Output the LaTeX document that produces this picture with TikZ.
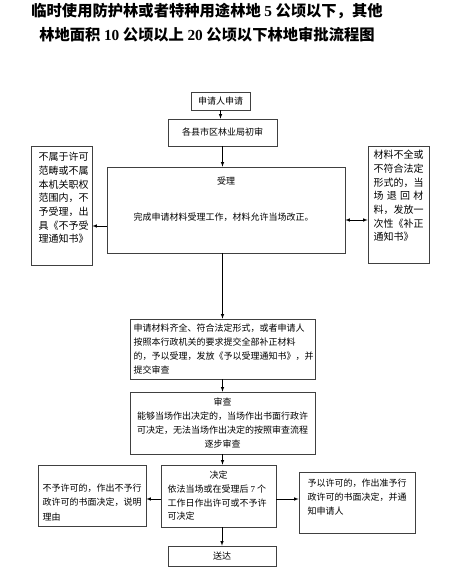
\documentclass[tikz,border=0pt]{standalone}
\usepackage{fontspec}
\setmainfont{Noto Sans CJK SC}
\newfontfamily\latinfont{Liberation Serif}
\usetikzlibrary{positioning, calc, arrows.meta}

\newcommand{\lat}[1]{{\latinfont #1}}

\tikzset{
  stepbox/.style={draw=black!75, line width=0.7pt, inner sep=0pt},
  note/.style={inner sep=0pt, font=\fontsize{9}{13.7}\selectfont},
  sidenote/.style={inner sep=0pt, font=\fontsize{10}{13.7}\selectfont, text width=50pt, align=left},
  headline/.style={inner sep=0pt, font=\fontsize{15.3}{20}\selectfont\bfseries},
  flow/.style={->, line width=0.6pt},
}

\begin{document}
\begin{tikzpicture}[x=1pt, y=-1pt, >=latex]
    \useasboundingbox (0,0) rectangle (451,571);

    % Title
    \node[headline] (title1) at (207,11) {临时使用防护林或者特种用途林地 \lat{5} 公顷以下，其他};
    \node[headline] (title2) at (207,35) {林地面积 \lat{10} 公顷以上 \lat{20} 公顷以下林地审批流程图};

    % Application and first check
    \node[stepbox, note, minimum width=59pt, minimum height=18pt] (apply) at (220.5,101) {申请人申请};
    \node[stepbox, note, minimum width=109pt, minimum height=27pt] (prelim) at (222.5,132.5) {各县市区林业局初审};

    % Acceptance
    \node[stepbox, minimum width=238pt, minimum height=86pt] (accept) at (226,210) {};
    \node[note] (acceptTitle) at (226,181) {受理};
    \node[note] (acceptBody) at (223.5,217) {完成申请材料受理工作，材料允许当场改正。};

    % Side boxes of the acceptance
    \node[stepbox, minimum width=61pt, minimum height=119pt] (reject) at (61.5,205.5) {};
    \node[sidenote, anchor=north] (rejectText) at (63.5,152) {不属于许可\\范畴或不属\\本机关职权\\范围内，不\\予受理，出\\具《不予受\\理通知书》};
    \node[stepbox, minimum width=61pt, minimum height=117pt] (patch) at (398.5,204.5) {};
    \node[sidenote, anchor=north] (patchText) at (398.5,150) {材料不全或\\不符合法定\\形式的，当\\\makebox[\linewidth][s]{场 退 回 材}\\料，发放一\\次性《补正\\通知书》};

    % Complete materials and review
    \node[stepbox, note, minimum width=185pt, minimum height=60pt] (complete) at (222.5,349) {\parbox{178pt}{申请材料齐全、符合法定形式，或者申请人\\按照本行政机关的要求提交全部补正材料\\的，予以受理，发放《予以受理通知书》，并\\提交审查}};
    \node[stepbox, note, minimum width=185pt, minimum height=62pt, align=center] (review) at (222.5,423) {审查\\能够当场作出决定的，当场作出书面行政许\\可决定，无法当场作出决定的按照审查流程\\逐步审查};

    % Decision
    \node[stepbox, note, minimum width=115pt, minimum height=62pt] (decide) at (218.5,496) {\parbox{102pt}{\makebox[\linewidth]{决定}\\依法当场或在受理后 \lat{7} 个\\工作日作出许可或不予许\\可决定}};
    \node[stepbox, minimum width=108pt, minimum height=61pt] (deny) at (92,495.5) {};
    \node[note, font=\fontsize{9}{14.5}\selectfont, text width=99pt, align=left] (denyText) at (92,502.5) {不予许可的，作出不予行\\政许可的书面决定，说明\\理由};
    \node[stepbox, minimum width=116pt, minimum height=61pt] (grant) at (357,502.5) {};
    \node[note, font=\fontsize{9}{14}\selectfont, text width=99pt, align=left] (grantText) at (357,497) {予以许可的，作出准予行\\政许可的书面决定，并通\\知申请人};
    \node[stepbox, note, minimum width=108pt, minimum height=20pt] (deliver) at (222,556) {送达};

    % Rows of the side arrows
    \coordinate (rejectRow) at (0,226);
    \coordinate (patchRow) at (0,220);
    \coordinate (decideRow) at (0,499);

    % Arrows
    \draw[flow] (apply.south) -- (apply.south |- prelim.north);
    \draw[flow] (prelim.south) -- (prelim.south |- accept.north);
    \draw[flow] (accept.west |- rejectRow) -- (reject.east |- rejectRow);
    \draw[flow, <->] (accept.east |- patchRow) -- (patch.west |- patchRow);
    \draw[flow] (complete.north |- accept.south) -- (complete.north);
    \draw[flow] (complete) -- (review);
    \draw[flow] (review.south) -- (review.south |- decide.north);
    \draw[flow] (decide.west |- decideRow) -- (deny.east |- decideRow);
    \draw[flow] (decide.east |- decideRow) -- (grant.west |- decideRow);
    \draw[flow] (deliver.north |- decide.south) -- (deliver.north);

\end{tikzpicture}
\end{document}
